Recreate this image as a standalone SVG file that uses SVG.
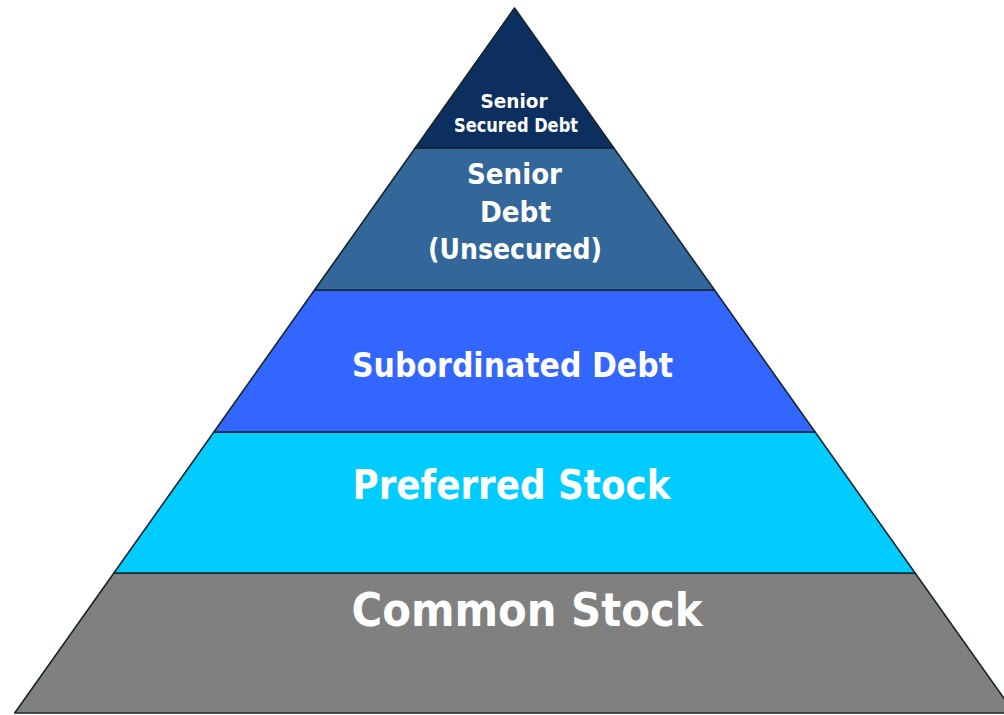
<svg xmlns="http://www.w3.org/2000/svg" width="1004" height="715" viewBox="0 0 1004 715">
<style>
.band{stroke:#17262e;stroke-width:1.6;stroke-linejoin:round}
.lbl{font-family:"DejaVu Sans","Liberation Sans",sans-serif;font-weight:bold;fill:#ffffff;text-anchor:middle}
</style>
<rect width="1004" height="715" fill="#ffffff"/>
<g id="common-stock">
<polygon class="band" fill="#808080" points="113.9,573 915.1,573 1014.3,713 14.7,713"/>
<text class="lbl" x="527" y="626" font-size="46" textLength="351" lengthAdjust="spacingAndGlyphs">Common Stock</text>
</g>
<g id="preferred-stock">
<polygon class="band" fill="#00CCFF" points="213.9,432 815.1,432 915.1,573 113.9,573"/>
<text class="lbl" x="511.5" y="499" font-size="40" textLength="318" lengthAdjust="spacingAndGlyphs">Preferred Stock</text>
</g>
<g id="subordinated-debt">
<polygon class="band" fill="#3366FF" points="314.5,290 714.5,290 815.1,432 213.9,432"/>
<text class="lbl" x="512.5" y="377" font-size="34" textLength="321" lengthAdjust="spacingAndGlyphs">Subordinated Debt</text>
</g>
<g id="senior-debt">
<polygon class="band" fill="#336699" points="415.2,148 613.8,148 714.5,290 314.5,290"/>
<text class="lbl" x="514.5" y="184" font-size="29" textLength="95" lengthAdjust="spacingAndGlyphs">Senior</text>
<text class="lbl" x="515.5" y="222" font-size="29" textLength="71" lengthAdjust="spacingAndGlyphs">Debt</text>
<text class="lbl" x="515" y="259" font-size="29" textLength="174" lengthAdjust="spacingAndGlyphs">(Unsecured)</text>
</g>
<g id="senior-secured-debt">
<polygon class="band" fill="#0D2F60" points="514.5,8 613.8,148 415.2,148"/>
<text class="lbl" x="514" y="108" font-size="19" textLength="67" lengthAdjust="spacingAndGlyphs">Senior</text>
<text class="lbl" x="516" y="132" font-size="19" textLength="124" lengthAdjust="spacingAndGlyphs">Secured Debt</text>
</g>
<g id="connectors"></g>
</svg>
